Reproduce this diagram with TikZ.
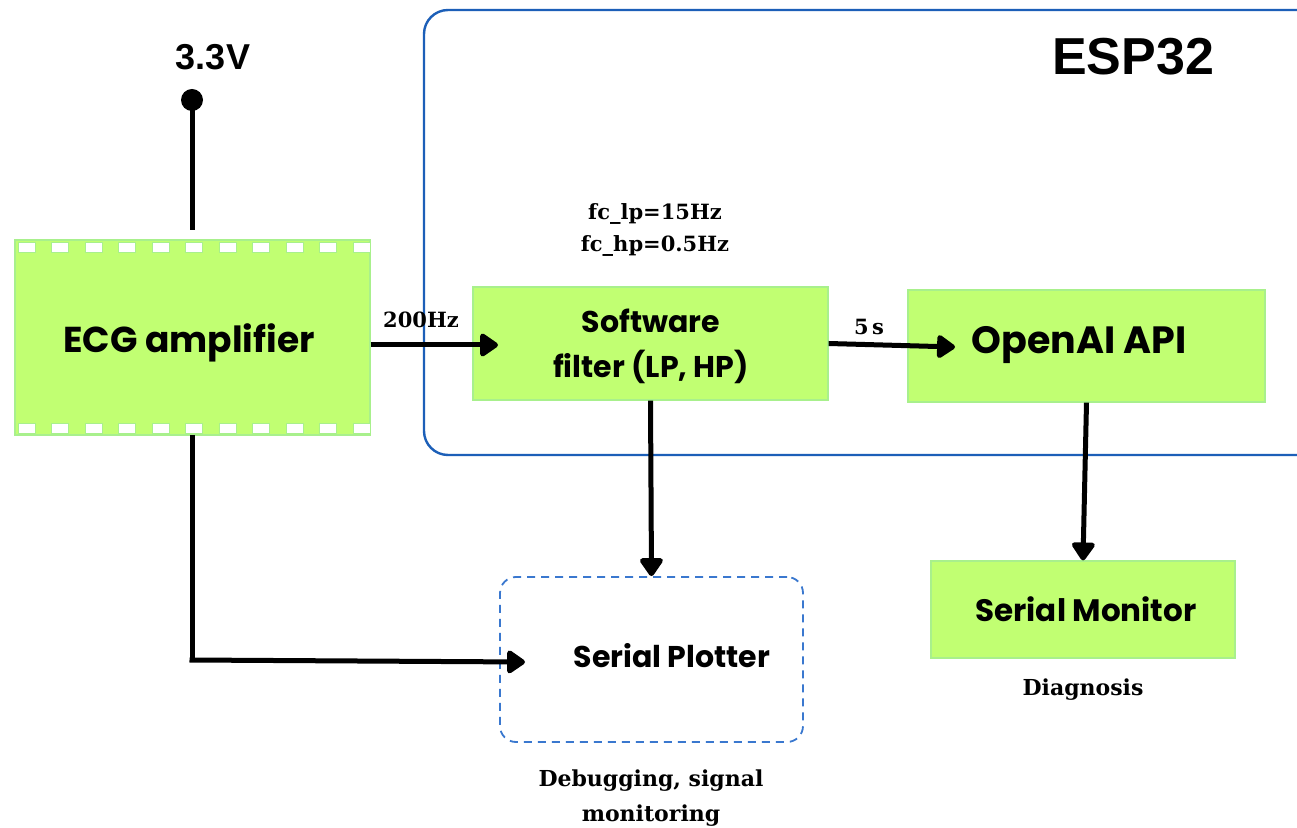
\documentclass[tikz,border=0pt]{standalone}
\usepackage{fontspec}
\setmainfont{Liberation Sans}
\newfontfamily\pop{Poppins}
\newfontfamily\slab{DejaVu Serif}
\usetikzlibrary{arrows.meta}
\definecolor{boxgreen}{HTML}{C1FF72}
\definecolor{edgegreen}{HTML}{A8F08C}
\definecolor{espblue}{HTML}{1C5FB8}
\definecolor{dashblue}{HTML}{3A78CF}
\tikzset{
  gbox/.style={draw=edgegreen, line width=0.6pt, fill=boxgreen, inner sep=0pt, align=center,
    font=\pop\bfseries\fontsize{15}{19}\selectfont},
  arr/.style={line width=2.5pt, -{Triangle[length=10pt,width=13pt,round]}},
  wire/.style={line width=2.5pt},
  slabtxt/.style={font=\slab\bfseries\fontsize{10.5}{13}\selectfont, inner sep=0pt, align=center},
  notch/.style={draw=edgegreen, line width=0.4pt, fill=white},
}
\begin{document}
\begin{tikzpicture}[x=0.5pt,y=-0.5pt]
\clip (0,0) rectangle (1297,828);
\fill[white] (0,0) rectangle (1297,828);
% ESP32 frame
\draw[espblue, line width=1.2pt, rounded corners=12pt] (424,10) rectangle (1330,455);
\node[font=\bfseries\fontsize{26}{30}\selectfont, inner sep=0pt] (esp) at (1133,57) {ESP32};
% ECG amplifier
\node[gbox, minimum width=177.5pt, minimum height=97.5pt] (ecg) at (192.5,337.5) {};
\foreach \i in {0,...,10} {
  \draw[notch] ({18+\i*33.5},242) rectangle ({35+\i*33.5},252);
  \draw[notch] ({18+\i*33.5},423) rectangle ({35+\i*33.5},433);
}
\node[font=\pop\bfseries\fontsize{18}{21}\selectfont, inner sep=0pt] (ecgtxt) at (189,343) {ECG amplifier};
% supply
\node[font=\bfseries\fontsize{18}{20}\selectfont, inner sep=0pt] (vlabel) at (213,57) {3.3V};
\node[circle, fill=black, minimum size=11pt, inner sep=0pt] (dot) at (192,100) {};
\coordinate (vin) at (192,230);
\draw[wire] (dot.center) -- (vin);
% filter
\node[gbox, minimum width=177.5pt, minimum height=56.5pt] (filter) at (650.5,343.5) {};
\node[font=\pop\bfseries\fontsize{15}{22.5}\selectfont, inner sep=0pt, align=center] (filtertxt) at (651,346) {Software\\filter (LP, HP)};
\node[slabtxt] (fc) at (655,230) {fc\_lp=15Hz\\[3pt]fc\_hp=0.5Hz};
% OpenAI
\node[gbox, minimum width=178.5pt, minimum height=56pt] (openai) at (1086.5,346) {};
\node[font=\pop\bfseries\fontsize{19}{22}\selectfont, inner sep=0pt] (openaitxt) at (1079,345) {OpenAI API};
% Serial plotter
\node[draw=dashblue, dashed, dash pattern=on 4pt off 3pt, line width=0.9pt, rounded corners=8pt, minimum width=151.5pt, minimum height=82.5pt, inner sep=0pt] (plotter) at (651.5,659.5) {};
\node[font=\pop\bfseries\fontsize{15}{19}\selectfont, inner sep=0pt] (plottxt) at (672,656) {Serial Plotter};
\node[slabtxt, font=\slab\bfseries\fontsize{11}{17.5}\selectfont] (debug) at (651,798) {Debugging, signal\\monitoring};
% Serial monitor
\node[gbox, minimum width=152pt, minimum height=48.5pt] (monitor) at (1083,609.5) {};
\node[font=\pop\bfseries\fontsize{15.5}{19}\selectfont, inner sep=0pt] (monitortxt) at (1086,609) {Serial Monitor};
\node[slabtxt, font=\slab\bfseries\fontsize{11}{13}\selectfont] (diag) at (1083,690) {Diagnosis};
% connectors
\coordinate (a1) at (498,345);
\draw[arr] (ecg.east |- a1) -- (a1);
\node[slabtxt] (l200) at (421,320) {200Hz};
\coordinate (a2) at (955,347);
\draw[arr] (filter.east) -- (a2);
\node[slabtxt] (l5s) at (869,327) {5\,s};
\draw[arr] (filter.south) -- (plotter.north);
\draw[arr] (openai.south) -- (monitor.north);
\coordinate (ecgdown) at (192,435);
\coordinate (corner) at (192,660);
\coordinate (a3) at (525,662);
\draw[wire] (ecgdown) -- (corner);
\draw[arr] ([xshift=-1.25pt]corner) -- (a3);
\end{tikzpicture}
\end{document}
